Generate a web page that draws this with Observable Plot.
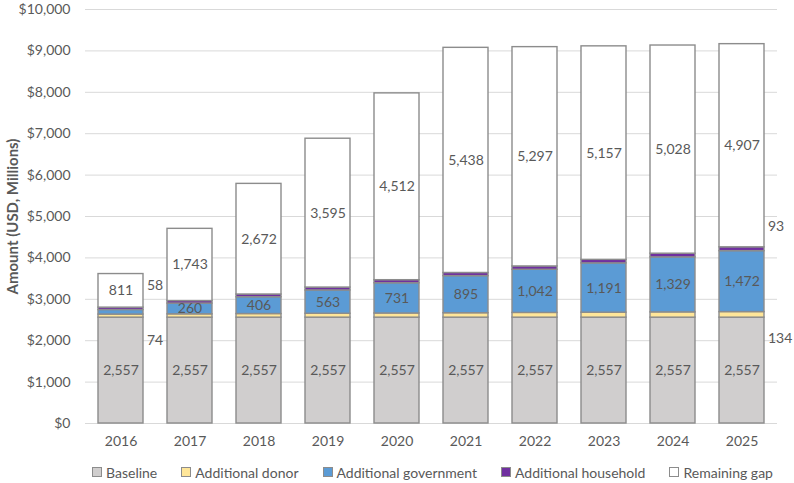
<!DOCTYPE html>
<html><head><meta charset="utf-8">
<script src="https://cdn.jsdelivr.net/npm/d3@7"></script>
<script src="https://cdn.jsdelivr.net/npm/@observablehq/plot@0.6"></script>
<style>
body{margin:0;background:#fff;font-family:Lato,"Open Sans",sans-serif;}
#chart svg{overflow:visible;display:block}
g[aria-label="y-axis label"] text{font-weight:bold;font-size:15px}
.legend{display:flex;justify-content:center;align-items:center;padding-left:71px;gap:24px;font-size:14px;color:#595959;height:22px;margin-top:3px}
.legend span.item{display:flex;align-items:center;gap:4px}
.legend span.sw{display:inline-block;width:8px;height:8px;border:1px solid #8c8c8c}
</style></head><body><div id="chart"></div><div class="legend" id="legend"></div><script>
const years = [2016, 2017, 2018, 2019, 2020, 2021, 2022, 2023, 2024, 2025];
const baseline = [2557, 2557, 2557, 2557, 2557, 2557, 2557, 2557, 2557, 2557];
const donor = [74, 80, 87, 94, 100, 107, 114, 120, 127, 134];
const government = [110, 260, 406, 563, 731, 895, 1042, 1191, 1329, 1472];
const household = [58, 62, 66, 70, 74, 77, 81, 85, 89, 93];
const gap = [811, 1743, 2672, 3595, 4512, 5438, 5297, 5157, 5028, 4907];
const seriesNames = ["Baseline", "Additional donor", "Additional government", "Additional household", "Remaining gap"];
const seriesColors = ["#d0cece", "#ffe699", "#5b9bd5", "#7030a0", "#ffffff"];
const yTicks = [0, 1000, 2000, 3000, 4000, 5000, 6000, 7000, 8000, 9000, 10000];

const seriesValues = [baseline, donor, government, household, gap];
const fmt = d3.format(",");
const data = [];
years.forEach((yr, i) => {
  seriesNames.forEach((s, j) => {
    const v = seriesValues[j][i];
    let inside = "";
    if (j === 0 || j === 4 || (j === 2 && i > 0)) inside = fmt(v);
    let above = "", below = "";
    if (j === 3 && (i === 0 || i === years.length - 1)) above = fmt(v);
    if (j === 1 && (i === 0 || i === years.length - 1)) below = fmt(v);
    data.push({year: String(yr), series: s, value: v, inside, above, below});
  });
});

const base = {x: "year", y: "value", z: "series", order: seriesNames};

const chart = Plot.plot({
  width: 794,
  height: 458,
  marginLeft: 85,
  marginRight: 17,
  marginTop: 9,
  marginBottom: 35,
  style: {fontFamily: "Lato, 'Open Sans', sans-serif", fontSize: "14px", color: "#595959", background: "#fff"},
  x: {domain: years.map(String), paddingInner: 0.35, paddingOuter: 0.175, label: null},
  y: {domain: [0, 10000], label: "Amount (USD, Millions)", labelAnchor: "center", labelArrow: "none"},
  color: {domain: seriesNames, range: seriesColors},
  marks: [
    Plot.gridY(yTicks, {stroke: "#d9d9d9", strokeOpacity: 1, strokeWidth: 1}),
    Plot.ruleY([0], {stroke: "#d9d9d9", strokeWidth: 1}),
    Plot.axisY({ticks: yTicks, tickSize: 0, tickPadding: 15, tickFormat: d => "$" + fmt(d), label: "Amount (USD, Millions)", labelArrow: "none", labelAnchor: "center", labelOffset: 78, fill: "#595959", fontSize: 14}),
    Plot.axisX({tickSize: 0, tickPadding: 13, label: null, fill: "#595959", fontSize: 14}),
    Plot.barY(data, Plot.stackY({...base, fill: "series", stroke: "#8c8c8c", strokeWidth: 1.4})),
    Plot.text(data, Plot.stackY({...base, text: "inside", fill: "#595959", fontSize: 14})),
    Plot.text(data, Plot.stackY({...base, text: "above", fill: "#595959", fontSize: 14, textAnchor: "start", dx: 26, dy: -23})),
    Plot.text(data, Plot.stackY({...base, text: "below", fill: "#595959", fontSize: 14, textAnchor: "start", dx: 26, dy: 24}))
  ]
});
document.getElementById("chart").appendChild(chart);

const legend = document.getElementById("legend");
seriesNames.forEach((s, i) => {
  const item = document.createElement("span");
  item.className = "item";
  const sw = document.createElement("span");
  sw.className = "sw";
  sw.style.background = seriesColors[i];
  item.appendChild(sw);
  item.appendChild(document.createTextNode(s));
  legend.appendChild(item);
});
</script></body></html>
